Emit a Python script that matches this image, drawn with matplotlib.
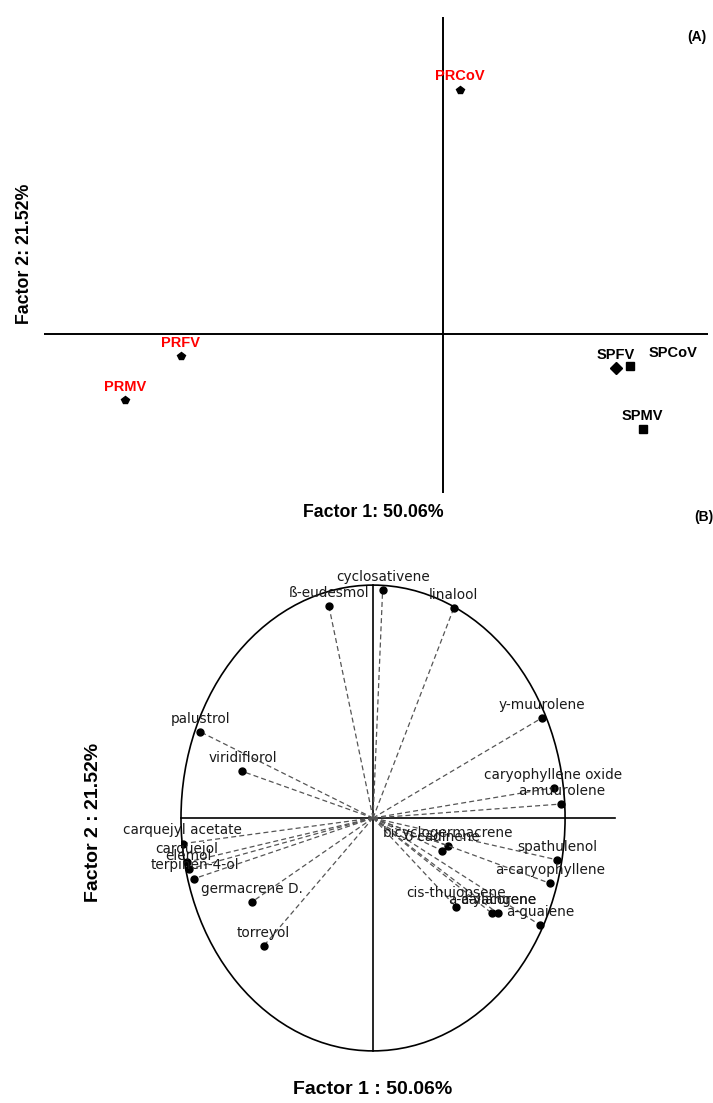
"""
PCA biplot - (A) sample scores, (B) correlation circle of compounds.
"""

import matplotlib

matplotlib.use("Agg")
import matplotlib.pyplot as plt
from matplotlib.patches import Ellipse

W, H = 713, 1103

# (A) sample scores on Factor 1 / Factor 2
samples = ["PRCoV", "PRFV", "PRMV", "SPFV", "SPCoV", "SPMV"]
f1_scores = [0.28, -4.37, -5.30, 2.88, 3.12, 3.33]
f2_scores = [4.07, -0.37, -1.10, -0.57, -0.53, -1.58]
sample_colors = ["red", "red", "red", "black", "black", "black"]
sample_markers = ["p", "p", "p", "D", "s", "s"]

# (B) variable correlations with Factor 1 / Factor 2
compounds = [
    "cyclosativene", "ß-eudesmol", "linalool", "palustrol", "viridiflorol",
    "y-muurolene", "caryophyllene oxide", "a-muurolene", "carquejyl acetate",
    "carquejol", "elemol", "terpinen-4-ol", "germacrene D.", "torreyol",
    "δ-cadinene", "bicyclogermacrene", "spathulenol", "a-caryophyllene",
    "cis-thujopsene", "a-calacorene", "a-ylangene", "a-guaiene",
]
corr_f1 = [0.05, -0.23, 0.42, -0.90, -0.68, 0.88, 0.94, 0.98, -0.99, -0.97,
           -0.96, -0.93, -0.63, -0.57, 0.36, 0.39, 0.96, 0.92, 0.43, 0.62,
           0.65, 0.87]
corr_f2 = [0.98, 0.91, 0.90, 0.37, 0.20, 0.43, 0.13, 0.06, -0.11, -0.19,
           -0.22, -0.26, -0.36, -0.55, -0.14, -0.12, -0.18, -0.28, -0.38,
           -0.41, -0.41, -0.46]


def fx(px):
    return px / W


def fy(py):
    return 1 - py / H


plt.rcParams["font.family"] = ["Liberation Sans", "DejaVu Sans"]
fig = plt.figure(figsize=(W / 100, H / 100), dpi=100)

# ---------- (A) ----------
ax1 = fig.add_axes([fx(44), fy(493), (708 - 44) / W, (493 - 17) / H])
ax1.set_xlim(-6.65, 4.42)
ax1.set_ylim(-2.65, 5.28)
ax1.axis("off")
ax1.axhline(0, color="black", lw=1.4)
ax1.axvline(0, color="black", lw=1.4)
for name, x, y, c, m in zip(samples, f1_scores, f2_scores, sample_colors, sample_markers):
    ax1.plot(x, y, marker=m, color="black", markersize=6, linestyle="none")
    lx = 31 if name == "SPCoV" else 0
    ax1.annotate(name, (x, y), xytext=(lx, 9.5), textcoords="offset points",
                 ha="center", va="center", color=c, fontsize=10.5, fontweight="bold")

fig.text(fx(697), fy(37), "(A)", ha="center", va="center", fontsize=10, fontweight="bold")
fig.text(fx(373), fy(513), "Factor 1: 50.06%", ha="center", va="center",
         fontsize=12.8, fontweight="bold")
fig.text(fx(25), fy(254), "Factor 2: 21.52%", ha="center", va="center",
         rotation=90, fontsize=12.8, fontweight="bold")
fig.text(fx(704), fy(517), "(B)", ha="center", va="center", fontsize=10, fontweight="bold")

# ---------- (B) ----------
ax2 = fig.add_axes([fx(181), fy(1053), (615 - 181) / W, (1053 - 583) / H])
ax2.set_xlim(-1.0, 1.26)
ax2.set_ylim(-1.009, 1.009)
ax2.axis("off")
ax2.add_patch(Ellipse((0, 0), 2, 2, fill=False, color="black", lw=1.2, clip_on=False))
ax2.plot([-1, 1.26], [0, 0], color="black", lw=1.2, clip_on=False)
ax2.plot([0, 0], [-1, 1], color="black", lw=1.2, clip_on=False)

for name, x, y in zip(compounds, corr_f1, corr_f2):
    ax2.plot([0, x], [0, y], color="#555555", lw=0.9, linestyle=(0, (4, 2.5)))
    ax2.plot(x, y, "o", color="black", markersize=5)
    ax2.annotate(name, (x, y), xytext=(0, 9.5), textcoords="offset points",
                 ha="center", va="center", color="#1a1a1a", fontsize=9.8,
                 family=["DejaVu Sans"])

fig.text(fx(373), fy(1090), "Factor 1 : 50.06%", ha="center", va="center",
         fontsize=14, fontweight="bold")
fig.text(fx(93), fy(822), "Factor 2 : 21.52%", ha="center", va="center",
         rotation=90, fontsize=14, fontweight="bold")

fig.savefig("out.png", dpi=100)
